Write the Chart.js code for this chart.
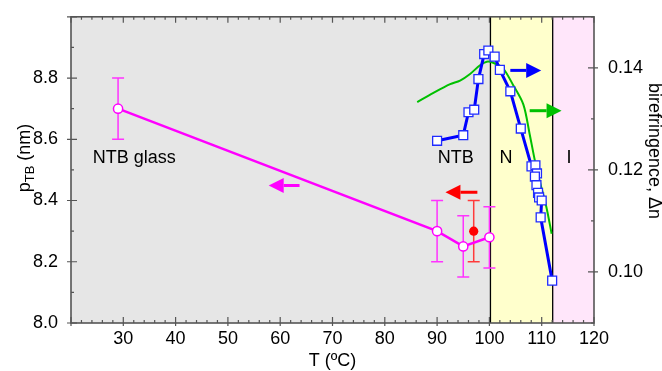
<!DOCTYPE html>
<html>
<head>
<meta charset="utf-8">
<script src="https://cdn.jsdelivr.net/npm/chart.js@4/dist/chart.umd.min.js"></script>
<style>
    html, body { margin: 0; padding: 0; background: #ffffff; }
    #wrap { width: 662px; height: 371px; }
</style>
</head>
<body>
<div id="wrap"><canvas id="pitchChart" width="662" height="371"></canvas></div>
<script>
// p_TB (nm) vs T, open magenta circles
const pitchTemps = [29, 90, 95, 100];
const pitchValues = [8.70, 8.30, 8.25, 8.28];
const pitchErrors = [0.1, 0.1, 0.1, 0.1];

// extra p_TB point (red, filled)
const redTemps = [97];
const redValues = [8.30];
const redErrors = [0.1];

// birefringence, squares
const birefTemps = [90.0, 95.0, 96.0, 97.1, 97.9, 99.0, 99.8, 101.0, 102.0, 104.0, 106.0,
    108.05, 108.8, 109.1, 108.7, 109.0, 109.3, 109.5, 110.0, 109.8, 112.0];
const birefValues = [0.1257, 0.1268, 0.1313, 0.1318, 0.1378, 0.1427, 0.1434, 0.1422, 0.1396, 0.1354, 0.1281,
    0.1207, 0.1209, 0.1193, 0.1187, 0.1170, 0.1155, 0.1146, 0.1140, 0.1107, 0.0983];

// birefringence, green curve
const curveTemps = [86.2, 89.3, 92.5, 94.4, 96.3, 98.2, 99.5, 100.7, 102.6, 104.5, 106.5, 107.7, 108.7, 109.6, 110.9, 111.9];
const curveValues = [0.1333, 0.1351, 0.1368, 0.1375, 0.1388, 0.1405, 0.1412, 0.1410, 0.1399, 0.1367, 0.1328, 0.1270, 0.1218, 0.1179, 0.1127, 0.1075];

// phases
const phaseEdges = [20, 100.2, 112.1, 120];
const phaseFills = ["#e6e6e6", "#ffffcc", "#ffe6fa"];

const xTicks = [30, 40, 50, 60, 70, 80, 90, 100, 110, 120];
const yTicks = [8.0, 8.2, 8.4, 8.6, 8.8];
const y1Ticks = [0.10, 0.12, 0.14];

// text labels in data coords (left axis)
const labelTexts = ["NTB glass", "NTB", "N", "I"];
const labelTemps = [32.1, 93.55, 103.15, 115.2];
const labelValues = [8.54, 8.54, 8.54, 8.54];

// arrows: from, to, level, axis
const arrowFrom = [63.7, 97.7, 104.0, 107.7];
const arrowTo = [57.8, 91.6, 109.9, 113.8];
const arrowLevel = [8.449, 8.427, 0.1395, 0.1316];
const arrowAxis = ["y", "y", "y1", "y1"];
const arrowColors = ["#ff00ff", "#ff0000", "#0000ff", "#00c000"];

const FONT = "'Liberation Sans', Arial, Helvetica, sans-serif";

function toPoints(xs, ys) {
    return xs.map((x, i) => ({ x: x, y: ys[i] }));
}

function drawErrors(ctx, x, y, xs, ys, errs, color) {
    ctx.strokeStyle = color;
    ctx.lineWidth = 1.5;
    ctx.beginPath();
    xs.forEach((t, i) => {
        const px = x.getPixelForValue(t);
        const hi = y.getPixelForValue(ys[i] + errs[i]);
        const lo = y.getPixelForValue(ys[i] - errs[i]);
        ctx.moveTo(px, hi);
        ctx.lineTo(px, lo);
        ctx.moveTo(px - 6, hi);
        ctx.lineTo(px + 6, hi);
        ctx.moveTo(px - 6, lo);
        ctx.lineTo(px + 6, lo);
    });
    ctx.stroke();
}

const backgroundPlugin = {
    id: "phaseBackground",
    beforeDatasetsDraw(chart) {
        const { ctx, chartArea, scales } = chart;
        const x = scales.x;
        const y = scales.y;
        ctx.save();
        for (let i = 0; i < phaseFills.length; i++) {
            const a = x.getPixelForValue(phaseEdges[i]);
            const b = x.getPixelForValue(phaseEdges[i + 1]);
            ctx.fillStyle = phaseFills[i];
            ctx.fillRect(a, chartArea.top, b - a, chartArea.bottom - chartArea.top);
        }
        ctx.strokeStyle = "#000000";
        ctx.lineWidth = 1.3;
        for (let i = 1; i < phaseEdges.length - 1; i++) {
            const px = x.getPixelForValue(phaseEdges[i]);
            ctx.beginPath();
            ctx.moveTo(px, chartArea.top);
            ctx.lineTo(px, chartArea.bottom);
            ctx.stroke();
        }

        // phase labels
        ctx.fillStyle = "#000000";
        ctx.font = "18px " + FONT;
        ctx.textAlign = "center";
        ctx.textBaseline = "middle";
        labelTexts.forEach((t, i) => {
            ctx.fillText(t, x.getPixelForValue(labelTemps[i]), y.getPixelForValue(labelValues[i]));
        });

        drawErrors(ctx, x, y, pitchTemps, pitchValues, pitchErrors, "#ff33ff");
        drawErrors(ctx, x, y, redTemps, redValues, redErrors, "#ff3b3b");
        ctx.restore();
    },
    afterDatasetsDraw(chart) {
        const { ctx, chartArea, scales } = chart;
        ctx.save();
        // arrows
        arrowFrom.forEach((f, i) => {
            const sy = scales[arrowAxis[i]];
            const x0 = scales.x.getPixelForValue(f);
            const x1 = scales.x.getPixelForValue(arrowTo[i]);
            const py = sy.getPixelForValue(arrowLevel[i]);
            const dir = x1 > x0 ? 1 : -1;
            const head = 15;
            ctx.strokeStyle = arrowColors[i];
            ctx.fillStyle = arrowColors[i];
            ctx.lineWidth = 3;
            ctx.beginPath();
            ctx.moveTo(x0, py);
            ctx.lineTo(x1 - dir * head, py);
            ctx.stroke();
            ctx.beginPath();
            ctx.moveTo(x1, py);
            ctx.lineTo(x1 - dir * head, py - 7.5);
            ctx.lineTo(x1 - dir * head, py + 7.5);
            ctx.closePath();
            ctx.fill();
        });

        // frame and ticks
        const { left, right, top, bottom } = chartArea;
        ctx.strokeStyle = "#555555";
        ctx.lineWidth = 1.6;
        ctx.strokeRect(left, top, right - left, bottom - top);
        ctx.lineWidth = 1.2;
        ctx.beginPath();
        for (let t = 20; t <= 120; t += 2) {
            const px = scales.x.getPixelForValue(t);
            const major = t % 10 === 0;
            const len = major ? 6 : 3;
            ctx.moveTo(px, bottom + (major ? 3 : 0));
            ctx.lineTo(px, bottom - len);
            ctx.moveTo(px, top);
            ctx.lineTo(px, top + len);
        }
        for (let k = 0; k <= 10; k++) {
            const py = scales.y.getPixelForValue(8 + k * 0.1);
            const major = k % 2 === 0;
            ctx.moveTo(left - (major ? 4 : 0), py);
            ctx.lineTo(left + (major ? 6 : 3), py);
        }
        for (let k = 0; k <= 6; k++) {
            const py = scales.y1.getPixelForValue(0.09 + k * 0.01);
            const major = k % 2 === 1;
            ctx.moveTo(right + (major ? 4 : 0), py);
            ctx.lineTo(right - (major ? 6 : 3), py);
        }
        ctx.stroke();

        // axis titles
        const big = "18px " + FONT;
        const small = "13px " + FONT;
        ctx.fillStyle = "#000000";
        ctx.textBaseline = "middle";
        ctx.textAlign = "center";
        ctx.font = big;
        ctx.fillText("T (\u00baC)", (left + right) / 2, 361);

        // left title with subscript
        ctx.save();
        ctx.translate(25, 158);
        ctx.rotate(-Math.PI / 2);
        ctx.font = big;
        const wP = ctx.measureText("p").width;
        const wRest = ctx.measureText(" (nm)").width;
        ctx.font = small;
        const wSub = ctx.measureText("TB").width;
        let cx = -(wP + wSub + wRest) / 2;
        ctx.textAlign = "left";
        ctx.textBaseline = "alphabetic";
        ctx.font = big;
        ctx.fillText("p", cx, 5);
        cx += wP;
        ctx.font = small;
        ctx.fillText("TB", cx, 9);
        cx += wSub;
        ctx.font = big;
        ctx.fillText(" (nm)", cx, 5);
        ctx.restore();

        // right title
        ctx.save();
        ctx.translate(654, 151);
        ctx.rotate(Math.PI / 2);
        ctx.font = big;
        ctx.textAlign = "center";
        ctx.textBaseline = "middle";
        ctx.fillText("birefringence, \u0394n", 0, 0);
        ctx.restore();

        ctx.restore();
    }
};

new Chart(document.getElementById("pitchChart").getContext("2d"), {
    type: "scatter",
    data: {
        datasets: [
            {
                label: "pTB",
                data: toPoints(pitchTemps, pitchValues),
                yAxisID: "y",
                showLine: true,
                borderColor: "#ff00ff",
                borderWidth: 2.5,
                pointRadius: 4.6,
                pointBorderWidth: 1.5,
                pointBackgroundColor: "#ffffff",
                pointBorderColor: "#ff00ff",
                order: 2
            },
            {
                label: "pTB red",
                data: toPoints(redTemps, redValues),
                yAxisID: "y",
                pointRadius: 4.6,
                pointBorderWidth: 0,
                pointBackgroundColor: "#ff0000",
                pointBorderColor: "#ff0000",
                order: 1
            },
            {
                label: "curve",
                data: toPoints(curveTemps, curveValues),
                yAxisID: "y1",
                showLine: true,
                borderColor: "#00c000",
                borderWidth: 2,
                pointRadius: 0,
                tension: 0.3,
                order: 4
            },
            {
                label: "birefringence",
                data: toPoints(birefTemps, birefValues),
                yAxisID: "y1",
                showLine: true,
                borderColor: "#0000ff",
                borderWidth: 3,
                pointStyle: "rect",
                pointRadius: 6.3,
                pointBorderWidth: 1.3,
                pointBackgroundColor: "#ffffff",
                pointBorderColor: "#1f2bff",
                order: 3
            }
        ]
    },
    options: {
        responsive: false,
        animation: false,
        devicePixelRatio: 1,
        layout: { padding: { top: 15, left: 0, right: 0, bottom: 0 } },
        plugins: {
            legend: { display: false },
            tooltip: { enabled: false }
        },
        scales: {
            x: {
                type: "linear",
                min: 20,
                max: 120,
                grid: { display: false },
                border: { display: false },
                afterBuildTicks: (s) => { s.ticks = xTicks.map((v) => ({ value: v })); },
                afterFit: (s) => { s.height = 48; },
                ticks: {
                    padding: -3,
                    color: "#000000",
                    font: { family: FONT, size: 18 },
                    maxRotation: 0,
                    callback: (v) => String(v)
                }
            },
            y: {
                type: "linear",
                position: "left",
                min: 8.0,
                max: 9.0,
                grid: { display: false },
                border: { display: false },
                afterBuildTicks: (s) => { s.ticks = yTicks.map((v) => ({ value: v })); },
                afterFit: (s) => { s.width = 71; },
                ticks: {
                    padding: 5,
                    color: "#000000",
                    font: { family: FONT, size: 18 },
                    callback: (v) => v.toFixed(1)
                }
            },
            y1: {
                type: "linear",
                position: "right",
                min: 0.09,
                max: 0.15,
                grid: { display: false },
                border: { display: false },
                afterBuildTicks: (s) => { s.ticks = y1Ticks.map((v) => ({ value: v })); },
                afterFit: (s) => { s.width = 68; },
                ticks: {
                    padding: 6,
                    color: "#000000",
                    font: { family: FONT, size: 18 },
                    callback: (v) => v.toFixed(2)
                }
            }
        }
    },
    plugins: [backgroundPlugin]
});
</script>
</body>
</html>
